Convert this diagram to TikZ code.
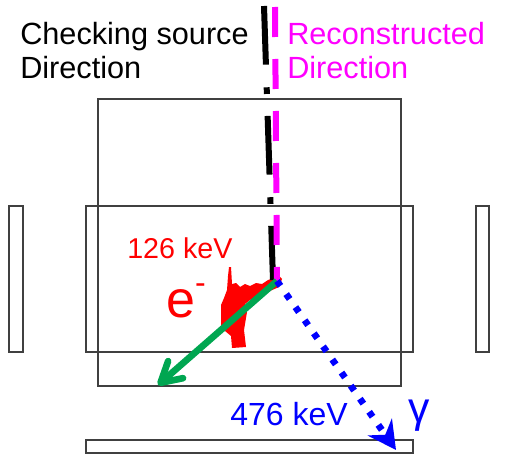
\documentclass[tikz,border=0pt]{standalone}
\usepackage{fontspec}
\setmainfont{Liberation Sans}
\usetikzlibrary{arrows.meta}

\definecolor{trackgreen}{RGB}{0,166,81}
\definecolor{recomagenta}{RGB}{255,0,255}

\begin{document}
\begin{tikzpicture}[
  x=0.75pt, y=-0.75pt,
  every node/.style={align=left, inner sep=0pt},
  detector/.style={draw=black!75, line width=1.2pt},
  bigtext/.style={font=\fontsize{23}{25.5}\selectfont, anchor=north west},
  source/.style={line width=4.5pt, dash pattern=on 44pt off 17pt on 5pt off 16.5pt},
  recon/.style={recomagenta, line width=4.5pt, dash pattern=on 22.5pt off 16.5pt},
  electron/.style={trackgreen, line width=5pt, -{Straight Barb[length=15pt, width=17pt, round]}},
  photon/.style={blue, line width=5pt, dash pattern=on 4.5pt off 7.5pt, -{Stealth[length=21pt, width=22pt, inset=7pt]}}
]
\useasboundingbox (0,0) rectangle (517,456);

% Detector planes
\draw[detector] (98,99) rectangle (401,386);
\draw[detector] (86,206) rectangle (413,352);
\draw[detector] (9,206) rectangle (23,352);
\draw[detector] (476,206) rectangle (489,352);
\draw[detector] (86,440) rectangle (413,453);

% Electron track
\fill[red] (229,267) -- (231,267) -- (232,284) -- (236,283) -- (240,287) -- (245,284)
  -- (250,286) -- (256,283) -- (262,284) -- (268,280) -- (274,278) -- (278,275)
  -- (282,279) -- (279,287) -- (270,291) -- (260,296) -- (250,300) -- (245,304)
  -- (247,312) -- (244,330) -- (246,347) -- (232,348) -- (231,336) -- (225,331)
  -- (221,325) -- (221,305) -- (224,298) -- (227,290) -- (228,276) -- cycle;

% Scattering point and line ends
\coordinate (vertex) at (277,281);
\coordinate (srctop) at (264,6);
\coordinate (srcend) at (273,280);
\coordinate (recotop) at (275,7);
\coordinate (etip) at (158,385);
\coordinate (gtip) at (396,450);

% Directions
\draw[source] (srctop) -- (srcend);
\draw[recon] (recotop) -- (vertex);

% Recoil electron and scattered gamma
\draw[electron] (vertex) -- (etip);
\draw[photon] (vertex) -- (gtip);

% Labels
\node[bigtext] (srclabel) at (20,22) {Checking source\\Direction};
\node[bigtext, text=recomagenta] (recolabel) at (287,22) {Reconstructed\\Direction};
\node[anchor=base west, text=red, font=\fontsize{21.5}{24}\selectfont] (eenergy) at (127,258) {126 keV};
\node[anchor=base west, text=red, font=\fontsize{39}{40}\selectfont] (elabel) at (166,317) {e\raisebox{0.45em}{\fontsize{24}{24}\selectfont -}};
\node[anchor=base west, text=blue, font=\fontsize{24}{26}\selectfont] (genergy) at (230,425) {476 keV};
\node[anchor=base west, text=blue, font=\fontsize{32}{34}\selectfont] (glabel) at (408,422) {γ};

\end{tikzpicture}
\end{document}
